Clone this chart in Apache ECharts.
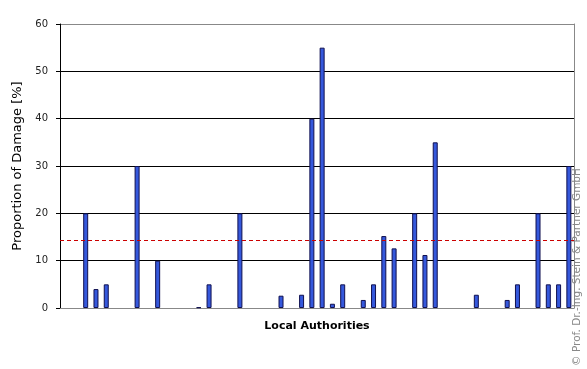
<!DOCTYPE html>
<html><head><meta charset="utf-8">
<script src="https://cdn.jsdelivr.net/npm/echarts@6/dist/echarts.min.js"></script>
<style>html,body{margin:0;padding:0;background:#fff}#c{width:587px;height:369px}</style>
</head><body><div id="c"></div>
<script>
const categories = ['1','2','3','4','5','6','7','8','9','10','11','12','13','14','15','16','17','18','19','20','21','22','23','24','25','26','27','28','29','30','31','32','33','34','35','36','37','38','39','40','41','42','43','44','45','46','47','48','49','50'];
const damage = [null,null,20,4,5,null,null,30,null,10,null,null,null,0.15,5,null,null,20,null,null,null,2.6,null,2.8,40,55,0.9,5,null,1.7,5,15.2,12.6,null,20,11.2,35,null,null,null,2.8,null,null,1.7,5,null,20,5,5,30];
const meanDamage = 14.4;
const yTicks = {min:0, max:60, interval:10};
const yTitle = 'Proportion of Damage [%]';
const xTitle = 'Local Authorities';
const copyright = '© Prof. Dr.-Ing. Stein & Partner GmbH';

const chart = echarts.init(document.getElementById('c'));
chart.setOption({
  animation:false,
  grid:{left:60,right:13,top:24,bottom:61},
  xAxis:{type:'category',data:categories,boundaryGap:true,
    axisLine:{lineStyle:{color:'#888',width:1}},axisTick:{show:false},axisLabel:{show:false},
    name:xTitle,nameLocation:'middle',nameGap:13,
    nameTextStyle:{fontFamily:'DejaVu Sans',fontSize:11,fontWeight:'bold',color:'#000'}},
  yAxis:[{type:'value',min:yTicks.min,max:yTicks.max,interval:yTicks.interval,
    axisLine:{show:true,lineStyle:{color:'#000',width:1}},
    axisTick:{show:true,length:4,lineStyle:{color:'#000'}},
    axisLabel:{margin:12,fontFamily:'DejaVu Sans',fontSize:10,color:'#222'},
    splitLine:{show:true,lineStyle:{color:['#888','#000','#000','#000','#000','#000','#888'],width:1}},
    name:yTitle,nameLocation:'middle',nameGap:26,
    nameTextStyle:{fontFamily:'DejaVu Sans',fontSize:13,color:'#000'}},
   {type:'value',position:'right',min:yTicks.min,max:yTicks.max,
    axisLine:{show:true,lineStyle:{color:'#888'}},axisTick:{show:false},axisLabel:{show:false},splitLine:{show:false}}],
  series:[{type:'bar',data:damage,barWidth:5,
    itemStyle:{color:'#3558dc',borderColor:'#101050',borderWidth:1},
    markLine:{silent:true,symbol:'none',label:{show:false},
      lineStyle:{color:'#cc0000',type:[4,3],width:1},
      data:[{yAxis:meanDamage}]}}],
  graphic:[{type:'text',x:577,y:267,rotation:Math.PI/2,
    style:{text:copyright,fontFamily:'DejaVu Sans',fontSize:10.5,fill:'#888',align:'center',verticalAlign:'middle'}}]
});
</script></body></html>
